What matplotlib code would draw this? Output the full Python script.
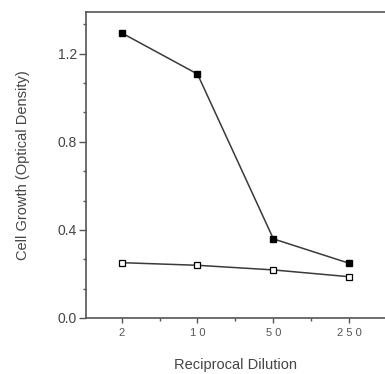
import numpy as np
import matplotlib
matplotlib.use("Agg")
import matplotlib.pyplot as plt
from matplotlib.ticker import MultipleLocator

plt.rcParams['font.family'] = ['Liberation Sans', 'DejaVu Sans']

dilutions = ['2', '1 0', '5 0', '2 5 0']
filled = [1.295, 1.108, 0.359, 0.248]
open_ = [0.251, 0.239, 0.218, 0.187]

fig = plt.figure(figsize=(3.85, 3.74), dpi=100)
ax = fig.add_axes([0.223, 0.150, 0.777, 0.818])

x = np.arange(len(dilutions))
line_c = '#3a3a3a'
ax.plot(x, filled, color=line_c, lw=1.1, marker='s', ms=4.5,
        mfc='black', mec='black')
ax.plot(x, open_, color=line_c, lw=1.1, marker='s', ms=4.5,
        mfc='white', mec='black', mew=0.9)

ax.set_xlim(-0.47, 3.47)
ax.set_ylim(0, 1.39)
ax.set_xticks(x)
ax.set_xticklabels(dilutions, fontsize=8, color='#555555')
ax.set_xticks([0.5, 1.5, 2.5], minor=True)
ax.yaxis.set_major_locator(MultipleLocator(0.4))
ax.yaxis.set_minor_locator(MultipleLocator(0.4 / 3))
ax.set_yticklabels([f'{v:.1f}' for v in ax.get_yticks()], fontsize=10,
                   color='#444444')

for s in ['left', 'bottom', 'top']:
    ax.spines[s].set_color('#555555')
    ax.spines[s].set_linewidth(1.2)
ax.spines['right'].set_visible(False)

ax.tick_params(axis='y', which='major', direction='out', length=5,
               width=1, color='#555555', pad=1.5)
ax.tick_params(axis='x', which='major', direction='out', length=3.5,
               width=1, color='#555555', pad=4)
ax.tick_params(axis='both', which='minor', direction='out', length=2,
               width=1, color='#555555')

ax.set_ylabel('Cell Growth (Optical Density)', fontsize=10.5, color='#444444',
              labelpad=20)
ax.set_xlabel('Reciprocal Dilution', fontsize=10.5, color='#444444',
              labelpad=14)

plt.savefig('out.png', dpi=100)
